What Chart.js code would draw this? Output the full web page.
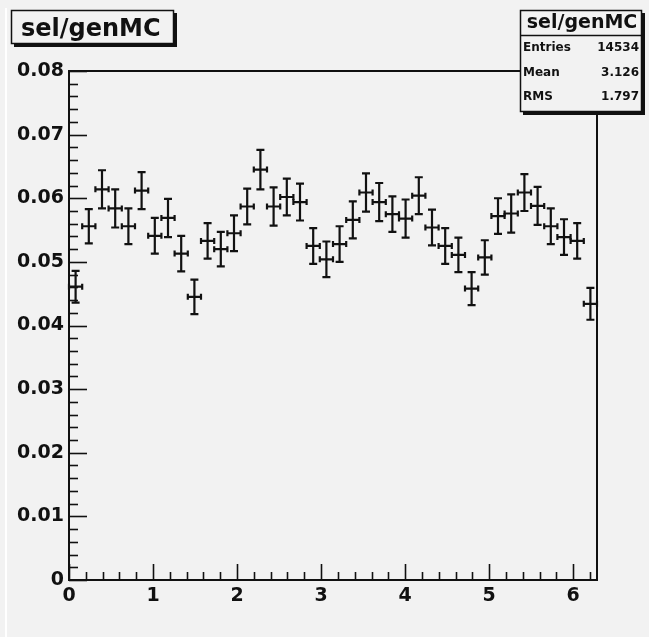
<!DOCTYPE html>
<html>
<head>
<meta charset="utf-8">
<script src="https://cdn.jsdelivr.net/npm/chart.js@4.4.0/dist/chart.umd.min.js"></script>
<style>
  html, body { margin: 0; padding: 0; background: #f2f2f2; }
  canvas { display: block; }
</style>
</head>
<body>
<canvas id="c" width="649" height="637"></canvas>
<script>
// ---- data ----
const histTitle = 'sel/genMC';
const nBins = 40;
const xMin = 0;
const xMax = 2 * Math.PI;
const binValues = [
  0.0461, 0.0556, 0.0614, 0.0584, 0.0556, 0.0612, 0.0541, 0.0569, 0.0513, 0.0445,
  0.0533, 0.0520, 0.0545, 0.0587, 0.0645, 0.0587, 0.0602, 0.0594, 0.0525, 0.0504,
  0.0528, 0.0566, 0.0609, 0.0594, 0.0575, 0.0568, 0.0604, 0.0554, 0.0525, 0.0511,
  0.0458, 0.0507, 0.0572, 0.0576, 0.0609, 0.0588, 0.0556, 0.0539, 0.0533, 0.0434
];
const binErrors = [
  0.0025, 0.0027, 0.0030, 0.0030, 0.0028, 0.0029, 0.0028, 0.0030, 0.0028, 0.0027,
  0.0028, 0.0027, 0.0028, 0.0028, 0.0031, 0.0030, 0.0029, 0.0029, 0.0028, 0.0028,
  0.0028, 0.0029, 0.0030, 0.0030, 0.0028, 0.0030, 0.0029, 0.0028, 0.0028, 0.0027,
  0.0026, 0.0027, 0.0028, 0.0030, 0.0029, 0.0030, 0.0028, 0.0028, 0.0028, 0.0025
];
const xTickValues = [0, 1, 2, 3, 4, 5, 6];
const xTickLabels = ['0', '1', '2', '3', '4', '5', '6'];
const yTickValues = [0, 0.01, 0.02, 0.03, 0.04, 0.05, 0.06, 0.07, 0.08];
const yTickLabels = ['0', '0.01', '0.02', '0.03', '0.04', '0.05', '0.06', '0.07', '0.08'];
const statLabels = ['Entries', 'Mean', 'RMS'];
const statValues = ['14534', '3.126', '1.797'];

const binWidth = (xMax - xMin) / nBins;
const points = binValues.map((v, i) => ({ x: xMin + (i + 0.5) * binWidth, y: v, e: binErrors[i] }));

const INK = '#111';
const FONT = '"DejaVu Sans", sans-serif';

const rootPlugin = {
  id: 'rootStyle',
  beforeDraw(chart) {
    const ctx = chart.ctx;
    ctx.save();
    ctx.fillStyle = '#f2f2f2';
    ctx.fillRect(0, 0, chart.width, chart.height);
    ctx.fillStyle = '#ffffff';
    ctx.fillRect(5, 8, 2, chart.height - 8);
    ctx.restore();
  },
  afterDraw(chart) {
    const ctx = chart.ctx;
    const xs = chart.scales.x, ys = chart.scales.y;
    const a = chart.chartArea;
    ctx.save();
    ctx.strokeStyle = INK;
    ctx.lineCap = 'butt';

    // frame
    ctx.lineWidth = 2;
    ctx.strokeRect(a.left, a.top, a.right - a.left, a.bottom - a.top);

    // y ticks (inward)
    ctx.lineWidth = 1.6;
    const yStepMinor = 0.002;
    for (let k = 0; k <= 40; k++) {
      const v = k * yStepMinor;
      const py = Math.round(ys.getPixelForValue(v)) + 0.5;
      const len = (k % 5 === 0) ? 18 : 9;
      ctx.beginPath();
      ctx.moveTo(a.left, py);
      ctx.lineTo(a.left + len, py);
      ctx.stroke();
    }
    // x ticks (inward)
    for (let k = 0; k * 0.2 <= xMax + 1e-9; k++) {
      const v = k * 0.2;
      const px = Math.round(xs.getPixelForValue(v)) + 0.5;
      const len = (k % 5 === 0) ? 16 : 8;
      ctx.beginPath();
      ctx.moveTo(px, a.bottom);
      ctx.lineTo(px, a.bottom - len);
      ctx.stroke();
    }

    // error bars
    ctx.lineWidth = 2.2;
    points.forEach(p => {
      const xc = xs.getPixelForValue(p.x);
      const x0 = xs.getPixelForValue(p.x - binWidth / 2);
      const x1 = xs.getPixelForValue(p.x + binWidth / 2);
      const yc = ys.getPixelForValue(p.y);
      const yt = ys.getPixelForValue(p.y + p.e);
      const yb = ys.getPixelForValue(p.y - p.e);
      ctx.beginPath();
      ctx.moveTo(x0, yc); ctx.lineTo(x1, yc);
      ctx.moveTo(xc, yt); ctx.lineTo(xc, yb);
      ctx.moveTo(xc - 4, yt); ctx.lineTo(xc + 4, yt);
      ctx.moveTo(xc - 4, yb); ctx.lineTo(xc + 4, yb);
      ctx.moveTo(x0, yc - 3); ctx.lineTo(x0, yc + 3);
      ctx.moveTo(x1, yc - 3); ctx.lineTo(x1, yc + 3);
      ctx.stroke();
    });

    // title box
    const tb = { x: 11, y: 10, w: 163, h: 34 };
    ctx.fillStyle = INK;
    ctx.fillRect(tb.x + 3, tb.y + 3, tb.w, tb.h);
    ctx.fillStyle = '#f2f2f2';
    ctx.fillRect(tb.x, tb.y, tb.w, tb.h);
    ctx.lineWidth = 1.5;
    ctx.strokeRect(tb.x + 0.5, tb.y + 0.5, tb.w - 1, tb.h - 1);
    ctx.fillStyle = INK;
    ctx.font = 'bold 24px ' + FONT;
    ctx.textAlign = 'left';
    ctx.textBaseline = 'alphabetic';
    ctx.fillText(histTitle, 21, 36);

    // stats box
    const sb = { x: 520, y: 10, w: 122, h: 102 };
    ctx.fillStyle = INK;
    ctx.fillRect(sb.x + 3, sb.y + 3, sb.w, sb.h);
    ctx.fillStyle = '#f2f2f2';
    ctx.fillRect(sb.x, sb.y, sb.w, sb.h);
    ctx.lineWidth = 1.5;
    ctx.strokeRect(sb.x + 0.5, sb.y + 0.5, sb.w - 1, sb.h - 1);
    ctx.beginPath();
    ctx.moveTo(sb.x, 35.5); ctx.lineTo(sb.x + sb.w, 35.5);
    ctx.stroke();
    ctx.fillStyle = INK;
    ctx.font = 'bold 19px ' + FONT;
    ctx.textAlign = 'center';
    ctx.textBaseline = 'middle';
    ctx.fillText(histTitle, sb.x + sb.w / 2 + 1, 23);
    ctx.font = 'bold 12px ' + FONT;
    const rowY = [48, 73, 97];
    statLabels.forEach((lab, i) => {
      ctx.textAlign = 'left';
      ctx.fillText(lab, sb.x + 3, rowY[i]);
      ctx.textAlign = 'right';
      ctx.fillText(statValues[i], sb.x + sb.w - 3, rowY[i]);
    });
    ctx.restore();
  }
};

new Chart(document.getElementById('c'), {
  type: 'scatter',
  data: {
    datasets: [{
      label: histTitle,
      data: points.map(p => ({ x: p.x, y: p.y })),
      pointRadius: 0,
      pointHoverRadius: 0,
      showLine: false
    }]
  },
  options: {
    responsive: false,
    devicePixelRatio: 1,
    animation: false,
    events: [],
    layout: { padding: { top: 71, right: 52, left: 0, bottom: 0 } },
    plugins: { legend: { display: false }, tooltip: { enabled: false }, title: { display: false } },
    scales: {
      x: {
        type: 'linear',
        min: xMin,
        max: xMax,
        afterBuildTicks(scale) { scale.ticks = xTickValues.map(v => ({ value: v })); },
        afterFit(scale) { scale.height = 57; },
        grid: { display: false, drawTicks: false },
        border: { display: false },
        ticks: {
          autoSkip: false,
          maxRotation: 0,
          padding: 5,
          color: INK,
          font: { family: FONT, weight: 'bold', size: 19 },
          callback: (v) => { const i = xTickValues.indexOf(v); return i >= 0 ? xTickLabels[i] : ''; }
        }
      },
      y: {
        type: 'linear',
        min: 0,
        max: 0.08,
        afterBuildTicks(scale) { scale.ticks = yTickValues.map(v => ({ value: v })); },
        afterFit(scale) { scale.width = 69; },
        grid: { display: false, drawTicks: false },
        border: { display: false },
        ticks: {
          autoSkip: false,
          padding: 5,
          color: INK,
          font: { family: FONT, weight: 'bold', size: 19 },
          callback: (v) => { const i = yTickValues.findIndex(t => Math.abs(t - v) < 1e-9); return i >= 0 ? yTickLabels[i] : ''; }
        }
      }
    }
  },
  plugins: [rootPlugin]
});
</script>
</body>
</html>
